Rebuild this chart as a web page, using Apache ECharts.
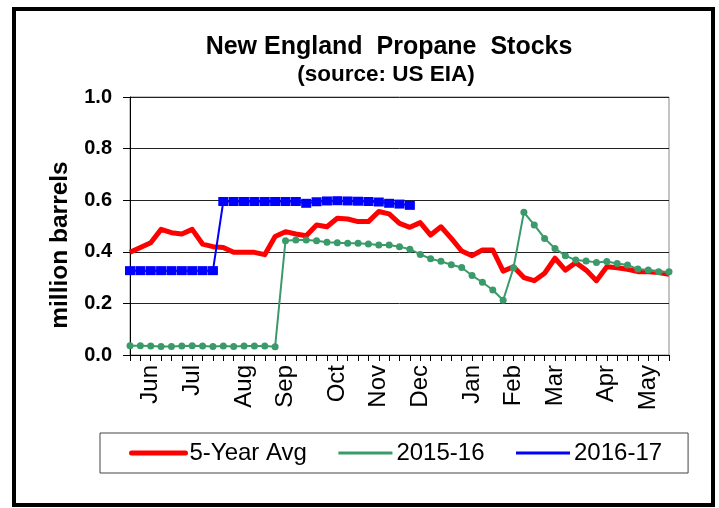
<!DOCTYPE html>
<html><head><meta charset="utf-8">
<script src="https://cdn.jsdelivr.net/npm/echarts@6/dist/echarts.min.js"></script>
<style>html,body{margin:0;padding:0;background:#fff;}#c{width:719px;height:508px;}</style>
</head><body><div id="c"></div>
<script>
// weekly points, June 2016 .. May 2017 (53 weeks)
var monthNames = ['Jun','Jul','Aug','Sep','Oct','Nov','Dec','Jan','Feb','Mar','Apr','May'];
var monthWeekIndex = [2, 6, 11, 15, 20, 24, 28, 33, 37, 41, 46, 50];
var weeks = [];
for (var k = 0; k < 53; k++) weeks.push('W' + (k + 1));

var avg5 = [0.398,0.417,0.435,0.487,0.474,0.469,0.487,0.430,0.420,0.417,
            0.398,0.398,0.398,0.389,0.459,0.478,0.469,0.462,0.504,0.497,
            0.530,0.527,0.517,0.517,0.556,0.547,0.510,0.495,0.513,0.465,
            0.497,0.452,0.403,0.385,0.407,0.407,0.325,0.342,0.300,0.288,
            0.317,0.375,0.329,0.358,0.329,0.288,0.342,0.338,0.332,0.323,
            0.323,0.320,0.313];
var y2015 = [0.036,0.036,0.035,0.033,0.033,0.035,0.036,0.035,0.033,0.035,
             0.033,0.035,0.035,0.035,0.032,0.443,0.446,0.446,0.443,0.437,
             0.435,0.433,0.433,0.430,0.426,0.426,0.420,0.410,0.390,0.373,
             0.363,0.350,0.339,0.308,0.282,0.252,0.212,0.338,0.553,0.504,
             0.452,0.413,0.385,0.368,0.364,0.359,0.362,0.355,0.349,0.333,
             0.329,0.323,0.323];
var y2016 = [0.327,0.327,0.327,0.327,0.327,0.327,0.327,0.327,0.327,0.595,
             0.595,0.595,0.595,0.595,0.595,0.595,0.595,0.588,0.594,0.597,
             0.598,0.597,0.596,0.595,0.593,0.588,0.585,0.580];
var yTicks = [0, 0.2, 0.4, 0.6, 0.8, 1.0];

var labelAt = {};
monthWeekIndex.forEach(function (w, j) { labelAt[w] = monthNames[j]; });

var FONT = '"Liberation Sans", Arial, sans-serif';
var chart = echarts.init(document.getElementById('c'), null, {renderer: 'canvas'});
chart.setOption({
  animation: false,
  backgroundColor: '#fff',
  title: [
    {text: 'New England  Propane  Stocks', left: 389, textAlign: 'center', top: 35, padding: 0,
     textStyle: {fontFamily: FONT, fontSize: 25, fontWeight: 'bold', color: '#000'}},
    {text: '(source: US EIA)', left: 386, textAlign: 'center', top: 63, padding: 0,
     textStyle: {fontFamily: FONT, fontSize: 22.5, fontWeight: 'bold', color: '#000'}}
  ],
  graphic: [{type: 'rect', shape: {x: 14, y: 9, width: 699, height: 496},
             style: {fill: 'none', stroke: '#000', lineWidth: 4}, silent: true}],
  grid: {left: 130, right: 50, top: 97, bottom: 153, show: true, borderColor: '#888', borderWidth: 1, backgroundColor: '#fff'},
  legend: {
    left: 100, top: 433, orient: 'horizontal',
    padding: [8, 26, 8, 29], itemGap: 30, itemWidth: 54, itemHeight: 14,
    borderColor: '#444', borderWidth: 1,
    itemStyle: {opacity: 0},
    textStyle: {fontFamily: FONT, fontSize: 24, color: '#000', padding: [0, 0, 0, -1]},
    data: [
      {name: '5-Year Avg', lineStyle: {width: 5, cap: 'round'}},
      {name: '2015-16', lineStyle: {width: 3}},
      {name: '2016-17', lineStyle: {width: 3}}
    ]
  },
  xAxis: {
    type: 'category', data: weeks, boundaryGap: false,
    axisLine: {lineStyle: {color: '#000', width: 1}},
    axisTick: {show: true, interval: 0, length: 6, lineStyle: {color: '#000'}},
    axisLabel: {interval: 0, rotate: 90, margin: 10, fontFamily: FONT, fontSize: 24, color: '#000',
      formatter: function (v, i) { return labelAt[i] || ''; }},
    splitLine: {show: false}
  },
  yAxis: {
    type: 'value', min: 0, max: 1, interval: 0.2,
    name: 'million barrels', nameLocation: 'middle', nameGap: 57, nameRotate: 90,
    nameTextStyle: {fontFamily: FONT, fontSize: 24.5, fontWeight: 'bold', color: '#000', padding: [0, 38, 0, 0]},
    axisLine: {show: true, lineStyle: {color: '#000', width: 1}},
    axisTick: {show: true, length: 7, lineStyle: {color: '#000'}},
    axisLabel: {margin: 18, fontFamily: FONT, fontSize: 20, fontWeight: 'bold', color: '#000',
      formatter: function (v) { return v.toFixed(1); }},
    splitLine: {show: true, lineStyle: {color: '#222', width: 1}}
  },
  series: [
    {name: '5-Year Avg', type: 'line', data: avg5, symbol: 'none',
     lineStyle: {color: '#ff0000', width: 5, join: 'round'}, itemStyle: {color: '#ff0000'}, z: 2},
    {name: '2015-16', type: 'line', data: y2015, symbol: 'circle', symbolSize: 7,
     lineStyle: {color: '#3a9a6a', width: 2}, itemStyle: {color: '#3a9a6a'}, z: 3},
    {name: '2016-17', type: 'line', data: y2016, symbol: 'rect', symbolSize: [10, 9],
     lineStyle: {color: '#0000ff', width: 2}, itemStyle: {color: '#0000ff'}, z: 4}
  ]
});
</script></body></html>
